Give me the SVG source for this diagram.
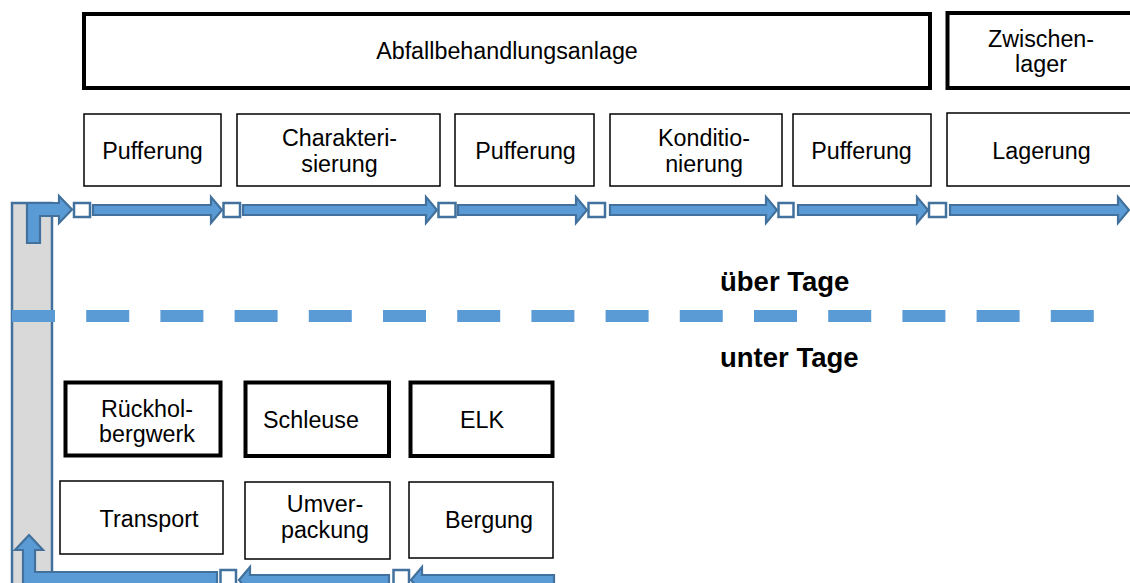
<svg xmlns="http://www.w3.org/2000/svg" width="1130" height="583" viewBox="0 0 1130 583">
<style>
text{font-family:"Liberation Sans",Arial,sans-serif;font-size:23.3px;fill:#000;text-anchor:middle}
.lbl{font-weight:bold;font-size:27.5px;text-anchor:start}
.thick{fill:#fff;stroke:#000;stroke-width:4}
.thin{fill:#fff;stroke:#000;stroke-width:1.5}
.arr{fill:#5b9bd5;stroke:#41719c;stroke-width:2.2;stroke-linejoin:miter}
.sq{fill:#fff;stroke:#41719c;stroke-width:2.5}
</style>
<rect width="1130" height="583" fill="#fff"/>
<g id="pipe"><rect x="12" y="203" width="40" height="395" fill="#d9d9d9" stroke="#41719c" stroke-width="2.5"/></g>

<g id="n-abfall"><rect class="thick" x="84" y="14" width="846" height="74"/><text x="507" y="59">Abfallbehandlungsanlage</text></g>
<g id="n-zwischen"><rect class="thick" x="947.5" y="13" width="190" height="75"/><text x="1041" y="47">Zwischen-</text><text x="1041" y="72">lager</text></g>

<g id="n-puff1"><rect class="thin" x="84" y="114" width="137" height="72"/><text x="152.5" y="159">Pufferung</text></g>
<g id="n-charak"><rect class="thin" x="237" y="114" width="203" height="72"/><text x="339.5" y="146">Charakteri-</text><text x="339.5" y="172">sierung</text></g>
<g id="n-puff2"><rect class="thin" x="455" y="114" width="139" height="72"/><text x="525.5" y="159">Pufferung</text></g>
<g id="n-kond"><rect class="thin" x="610" y="114" width="172" height="72"/><text x="704" y="146">Konditio-</text><text x="704" y="172">nierung</text></g>
<g id="n-puff3"><rect class="thin" x="793" y="114" width="138" height="72"/><text x="861.5" y="159">Pufferung</text></g>
<g id="n-lager"><rect class="thin" x="947" y="113" width="190" height="73"/><text x="1041.5" y="159">Lagerung</text></g>

<g id="n-rueck"><rect class="thick" x="65.5" y="382.5" width="155" height="73"/><text x="147" y="417">Rückhol-</text><text x="147" y="442">bergwerk</text></g>
<g id="n-schleuse"><rect class="thick" x="245.5" y="382.5" width="143.5" height="73.5"/><text x="311" y="428">Schleuse</text></g>
<g id="n-elk"><rect class="thick" x="410.5" y="382.5" width="142" height="73.5"/><text x="482" y="428">ELK</text></g>

<g id="n-transport"><rect class="thin" x="60" y="481" width="163" height="73"/><text x="149" y="527">Transport</text></g>
<g id="n-umver"><rect class="thin" x="245" y="482" width="145" height="77"/><text x="325" y="512">Umver-</text><text x="325" y="538">packung</text></g>
<g id="n-bergung"><rect class="thin" x="409" y="482" width="144" height="76"/><text x="489" y="528">Bergung</text></g>

<g id="connectors">
<polygon class="arr" points="27,243 27,203 59,203 59,196 72,209.5 59,223 59,216 40,216 40,243"/>
<rect class="sq" x="74" y="203" width="16" height="14"/>
<polygon class="arr" points="93,205 211,205 211,197 222,210 211,223 211,215 93,215"/>
<rect class="sq" x="223.5" y="203" width="16.5" height="14"/>
<polygon class="arr" points="243,205 426,205 426,197 437,210 426,223 426,215 243,215"/>
<rect class="sq" x="438.5" y="203" width="17" height="14"/>
<polygon class="arr" points="458,205 576,205 576,197 587,210 576,223 576,215 458,215"/>
<rect class="sq" x="588.5" y="203" width="16.5" height="14"/>
<polygon class="arr" points="610,205 766,205 766,197 777,210 766,223 766,215 610,215"/>
<rect class="sq" x="778.5" y="203" width="15" height="14"/>
<polygon class="arr" points="798,205 917,205 917,197 928,210 917,223 917,215 798,215"/>
<rect class="sq" x="929" y="203" width="17" height="14"/>
<polygon class="arr" points="950,205 1118,205 1118,197 1129,210 1118,223 1118,215 950,215"/>

<polygon class="arr" points="29,535 43,550 35,550 35,572 217,572 217,592 23,592 23,550 15,550"/>
<rect class="sq" x="220.5" y="570" width="15.5" height="18"/>
<polygon class="arr" points="239,580 250,567 250,575 389,575 389,585 250,585 250,593"/>
<rect class="sq" x="393.5" y="570" width="15.5" height="18"/>
<polygon class="arr" points="411,580 422,567 422,575 554,575 554,585 422,585 422,593"/>
</g>

<g id="divider">
<line x1="12" y1="316" x2="1094" y2="316" stroke="#5b9bd5" stroke-width="12" stroke-dasharray="43 31.2"/>
<text class="lbl" x="720" y="291">über Tage</text>
<text class="lbl" x="720" y="367">unter Tage</text>
</g>
</svg>
